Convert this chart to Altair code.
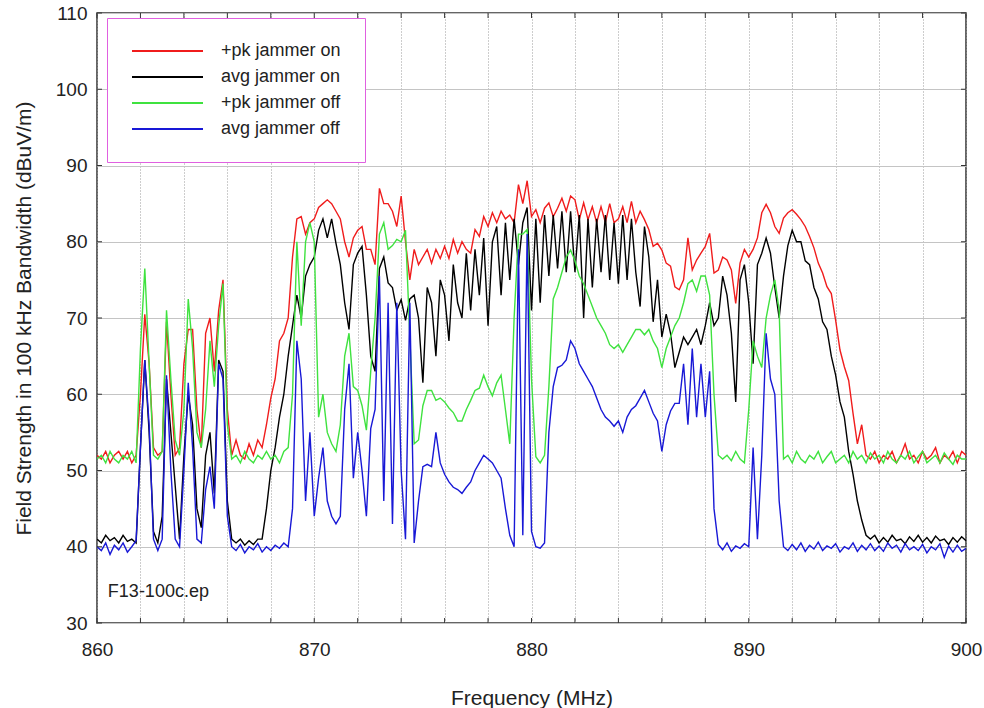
import altair as alt
import pandas as pd

# ---------------- data ----------------
FREQ = [round(860 + 0.2 * i, 1) for i in range(201)]  # MHz sampling grid

SERIES = ["+pk jammer on", "avg jammer on", "+pk jammer off", "avg jammer off"]
COLORS = ["#f01c1c", "#000000", "#3fe23f", "#1818d6"]

PK_ON = [
    52, 51.5, 52.5, 51, 52, 52.5, 51.5, 52.5, 51, 52,
    60, 70.5, 64, 53, 52, 52.5, 69.5, 60, 52, 53,
    64, 68.5, 68.5, 58, 53, 68, 70, 63, 71, 75,
    58, 52, 54, 52, 51.5, 53.5, 52, 54, 53, 56,
    59.5, 62, 67, 68, 70, 78, 83, 83.3, 81, 82.5,
    83, 84.5, 85, 85.5, 85, 84, 83, 80, 78, 80.5,
    81.5, 82, 79, 79, 77, 87, 85, 85, 84, 82,
    86, 80, 75, 79, 77, 78, 79, 77.2, 79, 77.8,
    79.4, 77.8, 80.3, 78.5, 80, 79, 78.5, 81.6, 80.7, 83.3,
    82, 83.8, 82.5, 84, 83, 83.5, 82.5, 87.5, 85, 88,
    83.3, 84.2, 82.5, 84.4, 85.1, 83.3, 84.4, 85.7, 84, 86,
    85.5, 82.9, 85.1, 82.9, 84.6, 82.5, 84.6, 82.5, 85, 82.5,
    83, 84.6, 82.5, 85.3, 82.5, 84, 82.9, 81.6, 79.4, 79.8,
    78.9, 77.2, 76.8, 74.1, 73.7, 75, 80.5, 76.3, 77.6, 78.5,
    79.4, 81.1, 75.9, 76.3, 78, 77.6, 76.3, 71.9, 77.2, 79,
    78, 79, 80.5, 83.8, 84.9, 83.8, 82, 81.1, 83.1, 83.8,
    84.2, 83.6, 82.9, 82, 80.7, 79.2, 77.2, 75.9, 74.1, 73.2,
    69.7, 65.8, 63.6, 61.8, 57.5, 53.5, 56, 52, 51.5, 52.5,
    51, 52, 51.5, 52.5, 51, 52, 53.5, 51.5, 52, 51,
    52.5, 51.5, 52, 53, 51, 52, 51.5, 52.5, 51, 52.5,
    52,
]

AVG_ON = [
    41, 40.5, 41.5, 40.8, 41.2, 40.5, 41.5, 40.7, 41, 40.5,
    53, 64.5, 55, 42, 40.5, 44, 62, 55, 48, 41,
    52, 60, 56, 45, 42.5, 52, 55, 47, 64.5, 63,
    46, 41, 40.5, 41, 40.2, 40.8, 40.3, 41, 41, 45,
    50, 53, 57, 60, 65, 69, 73, 70, 75.5, 77,
    78, 81.5, 83, 80.5, 83, 79.8, 77, 72, 68.5, 77,
    78.5, 79.4, 73, 65, 63, 76.5, 78, 74.6, 74, 71,
    72.4, 69.7, 72.5, 73, 70, 61.5, 74, 72, 65, 75,
    73, 67, 77, 72, 70, 78.5, 71, 79, 73, 80.5,
    69, 80, 82, 73, 82.5, 75, 83, 77, 82.5, 84.5,
    71, 83, 72, 83.5, 75.5, 83.5, 76.5, 84, 76, 84,
    76, 83.5, 70, 83, 74, 83, 76, 83.5, 75, 82.5,
    74.5, 83.5, 75, 83, 76, 71.5, 82, 78, 69.5, 75,
    67.5, 70.5, 68, 63.5, 65.5, 67.5, 66.5, 67.5, 68.5, 66.5,
    69, 72, 69, 70, 75.5, 73, 68, 59, 75, 77,
    72, 64, 77, 78.5, 80.5, 78.5, 74, 70, 75.5, 79.5,
    81.5, 80, 80, 77.5, 77, 74, 72.5, 69.5, 68.5, 65,
    62.5, 59, 57, 52.5, 49.5, 46, 43.5, 41.5, 41, 41.5,
    40.5, 41.2, 40.6, 41.5, 40.8, 41, 40.4, 41.3, 40.7, 41.5,
    40.6, 41.2, 40.5, 41.4, 40.8, 41, 40.3, 41.2, 40.6, 41.3,
    40.8,
]

PK_OFF = [
    51.5, 52, 51, 52.5, 51.5, 51, 52, 51.5, 52.5, 51,
    66, 76.5, 64, 52, 51.5, 52.5, 71, 62, 54, 52,
    58, 72.5, 66, 55, 53, 58, 67, 61, 69, 74.5,
    56, 51.5, 52, 51, 52.5, 51.5, 51, 52, 51.5, 52.5,
    51.5, 52, 51, 52.5, 53, 60, 80, 69, 80, 82.5,
    80, 57, 60, 55, 53.5, 52.5, 56, 65, 68, 61,
    60.5, 58.5, 55.3, 63, 70, 81, 82.5, 79, 79.5, 80.3,
    80, 81.5, 67.5, 53.5, 54, 58.5, 60.5, 60.5, 59.2, 59.5,
    59, 58.2, 57.6, 56.5, 56.5, 58, 59.2, 60.5, 60.8, 62.5,
    61, 59.8, 61.5, 62.5, 58, 53.5, 70, 81, 81, 81.6,
    62, 51.8, 51, 52, 61, 72.5, 74, 76, 78, 78.9,
    77.5, 75.5, 74.5, 73, 71.5, 70, 69, 68, 66.5, 66,
    66.5, 65.5, 66.5, 67.5, 68.5, 68.5, 67.8, 68.5, 67, 66,
    63.5, 66, 67.5, 69, 70, 72, 74.5, 75, 73.5, 75.5,
    75.5, 73, 60, 52, 51.5, 52, 51.3, 52.5, 51.5, 51,
    58, 67, 65, 63.5, 70, 73, 75, 71, 51.5, 52,
    51, 52.5, 51.5, 51, 52, 51.5, 52.5, 51, 51.8, 52.5,
    51, 51.5, 52, 51, 52.5, 51.5, 52, 51, 52.3, 51.5,
    52, 51, 52.5, 51.5, 51, 52, 51.5, 52.5, 51, 51.8,
    52.5, 51, 51.5, 52, 51, 52.3, 51.5, 50.8, 52, 51.5,
    51.5,
]

AVG_OFF = [
    40, 39.5, 40.5, 39, 40.2, 39.6, 40.5, 39.3, 40, 40.8,
    53, 64.5, 56, 41, 39.5, 41, 62.5, 50, 41, 40,
    50, 61.5, 53, 41, 40.5, 47.5, 50.5, 45, 64, 62,
    44, 40, 39.5, 40.3, 39.2, 40, 39.6, 40.4, 39.3, 40,
    39.5, 40.2, 39.8, 40.5, 40, 45, 67, 62, 46, 55,
    44, 49, 53, 46, 44, 43, 44, 58, 64, 49,
    55, 50, 44, 55.5, 58, 75.5, 46, 72, 43, 72,
    50, 41, 72, 40.5, 46, 50.5, 50.8, 50.5, 55, 51,
    49.5, 48.5, 47.8, 47.5, 47, 47.8, 48.5, 50, 51, 52,
    51.5, 51, 50, 49, 45, 41.5, 40, 79, 41.5, 81,
    42, 40, 39.8, 40.5, 55, 61, 63.5, 63.8, 64.5, 67,
    66, 64, 63, 62, 61, 59.5, 58, 57, 56.5, 55.8,
    56.5, 55, 57, 58, 58.5, 59.5, 60.5, 59, 57.5, 56.5,
    52.5, 56, 57.8, 58.8, 58.8, 64, 56, 66, 57, 64,
    57, 63, 45, 40.3, 39.6, 40.5, 39.4, 40.1, 39.8, 40.4,
    40, 53, 41, 52, 68, 62, 60, 46, 40, 39.5,
    40.3, 39.6, 40.5, 39.4, 40.2, 39.7, 40.6, 39.5, 40.1, 39.8,
    40.4, 39.3, 40, 39.7, 40.5, 39.4, 40.2, 39.6, 40.4, 39.5,
    40.1, 39.4, 40.5, 39.8, 40.2, 39.3, 40.4, 39.6, 40, 39.5,
    40.3, 39.2, 40, 39.6, 40.4, 38.6, 40.1, 39.3, 40.2, 39.4,
    39.8,
]

X_TICKS = list(range(860, 901, 2))
Y_TICKS = list(range(30, 111, 10))
NOTE = ["F13-100c.ep"]
NOTE_FREQ = [860.5]
NOTE_LEVEL = [34.1]

# ---------------- tables ----------------
rows = []
for name, vals in zip(SERIES, [PK_ON, AVG_ON, PK_OFF, AVG_OFF]):
    assert len(vals) == len(FREQ), (name, len(vals))
    for f, v in zip(FREQ, vals):
        rows.append({"freq": f, "level": v, "series": name})
df = pd.DataFrame(rows)
xt = pd.DataFrame({"freq": X_TICKS})
yt = pd.DataFrame({"level": Y_TICKS})
note = pd.DataFrame({"freq": NOTE_FREQ, "level": NOTE_LEVEL, "text": NOTE})

W, H = 869, 610
FONT = "Liberation Sans"
xscale = alt.Scale(domain=[860, 900], nice=False, zero=False)
yscale = alt.Scale(domain=[30, 110], nice=False, zero=False)

x_axis = alt.Axis(
    values=X_TICKS,
    labelExpr="datum.value % 10 === 0 ? datum.label : ''",
    title="Frequency (MHz)",
    grid=True, gridDash=[1, 2], gridColor="#9a9a9a", gridWidth=1,
    ticks=False, tickSize=0, domain=False,
    labelPadding=17, labelFontSize=19, labelFlush=False, labelOverlap=False,
    labelColor="#222222", labelFont=FONT,
    titleFontSize=21, titleFontWeight="normal", titleFont=FONT, titleColor="#222222",
    titleX=W / 2, titleY=81, titleBaseline="alphabetic", titleAlign="center",
)
y_axis = alt.Axis(
    values=Y_TICKS,
    title="Field Strength in 100 kHz Bandwidth (dBuV/m)",
    grid=True, gridColor="#c4c4c4", gridWidth=1,
    ticks=False, tickSize=0, domain=False,
    labelPadding=10, labelFontSize=19, labelFlush=False, labelOverlap=False,
    labelColor="#222222", labelFont=FONT,
    titleFontSize=21, titleFontWeight="normal", titleFont=FONT, titleColor="#222222",
    titleX=-67, titleY=H / 2, titleBaseline="alphabetic", titleAlign="center", titleAngle=270,
)


def X():
    return alt.X("freq:Q", scale=xscale, axis=x_axis)


def Y():
    return alt.Y("level:Q", scale=yscale, axis=y_axis)


lines = alt.Chart(df).mark_line(strokeWidth=1.4, clip=True).encode(
    x=X(),
    y=Y(),
    color=alt.Color(
        "series:N",
        scale=alt.Scale(domain=SERIES, range=COLORS),
        sort=SERIES,
        legend=alt.Legend(
            title=None, orient="none", legendX=10, legendY=5, direction="vertical",
            symbolType="stroke", symbolSize=5041, symbolStrokeWidth=2,
            clipHeight=18, rowPadding=8, padding=24,
            labelFontSize=18, labelFont=FONT, labelColor="#222222", labelOffset=17,
            strokeColor="#e060e0", fillColor="white",
        ),
    ),
    order=alt.Order("freq:Q"),
)

tick_style = dict(color="#333333", strokeWidth=1)
bottom_ticks = alt.Chart(xt).mark_rule(**tick_style).encode(
    x=X(), y=alt.value(H), y2=alt.value(H - 5))
top_ticks = alt.Chart(xt).mark_rule(**tick_style).encode(
    x=X(), y=alt.value(0), y2=alt.value(5))
left_ticks = alt.Chart(yt).mark_rule(**tick_style).encode(
    y=Y(), x=alt.value(0), x2=alt.value(5))
right_ticks = alt.Chart(yt).mark_rule(**tick_style).encode(
    y=Y(), x=alt.value(W), x2=alt.value(W - 5))

note_text = alt.Chart(note).mark_text(
    align="left", baseline="middle", fontSize=18, font=FONT, color="#222222"
).encode(
    x=X(),
    y=Y(),
    text="text:N",
)

chart = alt.layer(
    lines, bottom_ticks, top_ticks, left_ticks, right_ticks, note_text
).properties(
    width=W, height=H,
    autosize=alt.AutoSizeParams(type="none"),
    padding={"left": 97, "top": 13, "right": 18, "bottom": 85},
    background="white",
).configure_view(
    stroke="#333333", strokeWidth=1.5
)

chart.save("out.html", embed_options={"renderer": "svg", "actions": False})
